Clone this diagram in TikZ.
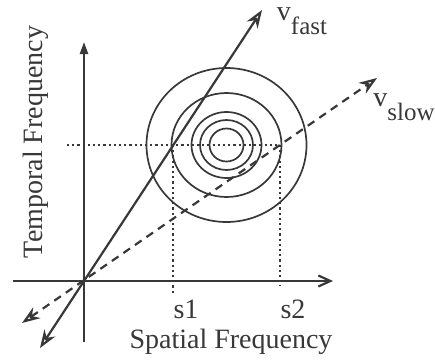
\documentclass[tikz,border=0pt]{standalone}
\usepackage{fontspec}
\setmainfont{Liberation Serif}
\usetikzlibrary{arrows.meta, positioning}
\definecolor{ink}{rgb}{0.22, 0.22, 0.22}
\newcommand{\velname}[1]{v\raisebox{-0.5em}{\fontsize{12.5}{12.5}\selectfont #1}}

\begin{document}
\begin{tikzpicture}[x=0.5pt, y=-0.5pt,
    every node/.style={ink, font=\fontsize{14}{16}\selectfont},
    axisline/.style={ink, line width=1.1pt},
    veline/.style={ink, line width=1.1pt, {Stealth[open, length=9pt, width=6.5pt]}-{Stealth[open, length=9pt, width=6.5pt]}},
    guide/.style={ink, line width=0.9pt, dash pattern=on 1.1pt off 1.5pt},
    ring/.style={ink, line width=0.85pt}]

    \useasboundingbox (0,0) rectangle (435,360);

    % axes
    \coordinate (O) at (84,281);
    \coordinate (tbot) at (84,342);
    \coordinate (ttop) at (84,42);
    \coordinate (sleft) at (13,281);
    \coordinate (sright) at (333,281);
    \draw[axisline, -{Triangle[length=6pt, width=4pt]}] (tbot) -- (ttop);
    \draw[axisline, -{Straight Barb[length=6pt, width=5.5pt]}] (sleft) -- (sright);

    % rings round the peak
    \coordinate (C) at (226.5,145);
    \foreach \rx/\ry in {80/77, 55/52, 35/33, 26.5/25, 17/16.5}
        \draw[ring] (C) ellipse ({\rx} and {\ry});

    % velocity lines
    \coordinate (fastlo) at (40,348);
    \coordinate (fasthi) at (262,10);
    \coordinate (slowlo) at (22,323);
    \coordinate (slowhi) at (377,78);
    \draw[veline] (fastlo) -- (fasthi);
    \draw[veline, dash pattern=on 4pt off 3pt] (slowlo) -- (slowhi);

    % guides to s1 and s2
    \coordinate (hleft) at (67,145);
    \coordinate (p1) at (173.3,145);
    \coordinate (p2) at (280,145);
    \coordinate (p1end) at (173.3,293);
    \coordinate (p2end) at (280,286);
    \draw[guide] (hleft) -- (p2);
    \draw[guide] (p1) -- (p1end);
    \draw[guide] (p2) -- (p2end);

    % labels
    \node (s1) at (186,309) {s1};
    \node (s2) at (293,309) {s2};
    \node (sf) at (231,342) {Spatial Frequency};
    \node[rotate=90] (tf) at (36,142) {Temporal Frequency};
    \node (vf) at (302,21) {\velname{fast}};
    \node[inner sep=1pt] (vs) at (404,107) {\velname{slow}};
\end{tikzpicture}
\end{document}
